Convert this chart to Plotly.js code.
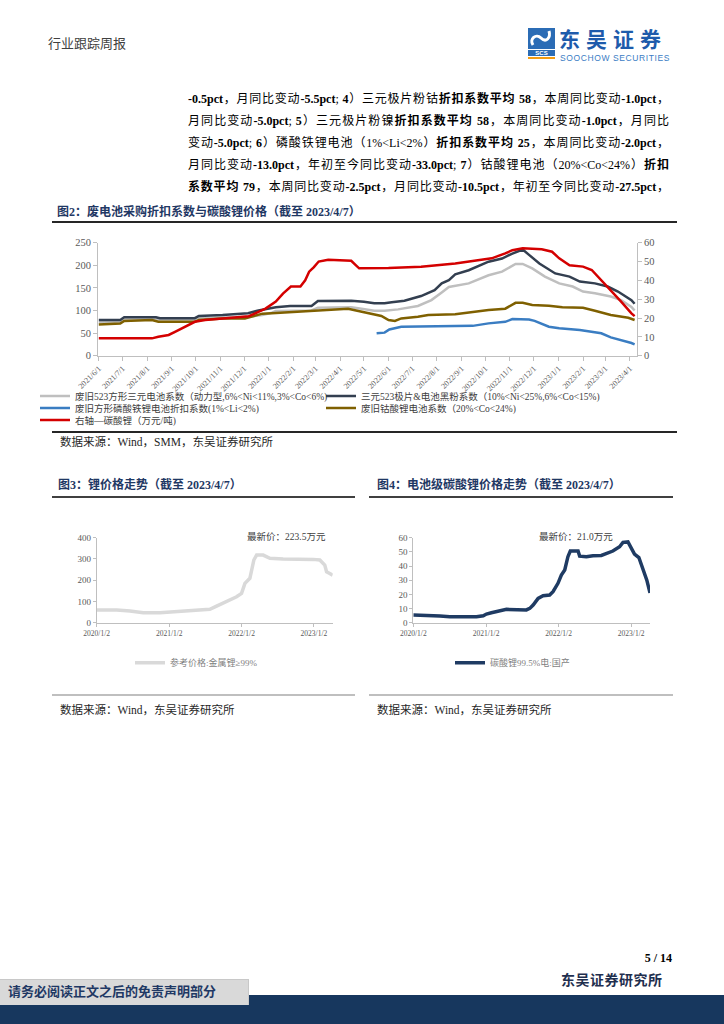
<!DOCTYPE html>
<html>
<head>
<meta charset="utf-8">
<script src="https://cdn.plot.ly/plotly-3.0.1.min.js"></script>
<style>
html,body{margin:0;padding:0;background:#fff;}
#page{position:relative;width:724px;height:1024px;overflow:hidden;background:#fff;
  font-family:"Liberation Serif","Noto Sans CJK SC",serif;color:#000;}
#chart{position:absolute;left:0;top:0;width:724px;height:1024px;}
.c{position:absolute;white-space:nowrap;line-height:1.2;transform:translateY(-50%);}
.p{position:absolute;left:188px;width:481px;font-size:12px;line-height:1.2;text-align:justify;text-align-last:justify;transform:translateY(-50%);}
.ttl{font-weight:bold;color:#1f3864;font-size:12px;}
.rule{position:absolute;}
</style>
</head>
<body>
<div id="page">
  <div id="chart"></div>

  <!-- header -->
  <div class="c" style="left:48px;top:44px;font-size:13px;color:#404040;">行业跟踪周报</div>
  <svg style="position:absolute;left:528px;top:28px" width="28" height="32">
    <rect x="0" y="0" width="27" height="21" fill="#2b6cb5"/>
    <path d="M5 17 C 1 11, 8 5, 13 10 S 23 10, 21 3" stroke="#fff" stroke-width="3" fill="none"/>
    <rect x="0" y="22" width="27" height="6" fill="#2b6cb5"/>
    <text x="13.5" y="27" font-size="6" fill="#fff" text-anchor="middle" font-weight="bold" font-family="Liberation Sans">SCS</text>
    <rect x="0" y="29" width="27" height="2" fill="#f39c12"/>
  </svg>
  <div class="c" style="left:559px;top:38px;font-size:21px;line-height:1;font-weight:bold;color:#1e5bab;letter-spacing:6px;font-family:'Noto Sans CJK SC';">东吴证券</div>
  <div class="c" style="left:560px;top:57.5px;font-size:8.5px;line-height:1;color:#3a7cc4;font-family:'Liberation Sans';letter-spacing:0.6px;">SOOCHOW SECURITIES</div>

  <!-- paragraph -->
  <div class="p" style="top:99px;"><b>-0.5pct</b>，月同比变动<b>-5.5pct</b>; <b>4</b>）三元极片粉钴<b>折扣系数平均 58</b>，本周同比变动<b>-1.0pct</b>，</div>
  <div class="p" style="top:121px;">月同比变动<b>-5.0pct</b>; <b>5</b>）三元极片粉镍<b>折扣系数平均 58</b>，本周同比变动<b>-1.0pct</b>，月同比</div>
  <div class="p" style="top:143px;">变动<b>-5.0pct</b>; <b>6</b>）磷酸铁锂电池（1%&lt;Li&lt;2%）<b>折扣系数平均 25</b>，本周同比变动<b>-2.0pct</b>，</div>
  <div class="p" style="top:165px;">月同比变动<b>-13.0pct</b>，年初至今同比变动<b>-33.0pct</b>; <b>7</b>）钴酸锂电池（20%&lt;Co&lt;24%）<b>折扣</b></div>
  <div class="p" style="top:187px;"><b>系数平均</b> <b>79</b>，本周同比变动<b>-2.5pct</b>，月同比变动<b>-10.5pct</b>，年初至今同比变动<b>-27.5pct</b>，</div>

  <!-- figure 2 -->
  <div class="c ttl" style="left:57px;top:212px;">图2：废电池采购折扣系数与碳酸锂价格（截至 2023/4/7）</div>
  <div class="rule" style="left:52px;top:221px;width:625px;height:2px;background:#262626;"></div>
  <div class="rule" style="left:52px;top:431px;width:625px;height:2px;background:#262626;"></div>
  <div class="c" style="left:60px;top:443px;font-size:11.5px;color:#262626;">数据来源：Wind，SMM，东吴证券研究所</div>

  <!-- figure 3 / 4 -->
  <div class="c ttl" style="left:58px;top:485px;">图3：锂价格走势（截至 2023/4/7）</div>
  <div class="rule" style="left:52px;top:496px;width:303px;height:2px;background:#404040;"></div>
  <div class="c ttl" style="left:377px;top:485px;">图4：电池级碳酸锂价格走势（截至 2023/4/7）</div>
  <div class="rule" style="left:369px;top:496px;width:304px;height:2px;background:#404040;"></div>
  <div class="rule" style="left:52px;top:694px;width:303px;height:1.5px;background:#bfbfbf;"></div>
  <div class="rule" style="left:369px;top:694px;width:304px;height:1.5px;background:#bfbfbf;"></div>
  <div class="c" style="left:60px;top:711px;font-size:11.5px;color:#262626;">数据来源：Wind，东吴证券研究所</div>
  <div class="c" style="left:377px;top:711px;font-size:11.5px;color:#262626;">数据来源：Wind，东吴证券研究所</div>

  <!-- footer -->
  <div class="c" style="right:52px;top:958px;font-size:12px;font-weight:bold;">5 / 14</div>
  <div class="c" style="left:561px;top:981px;font-size:14px;font-weight:bold;color:#1f2f4f;letter-spacing:0.5px;">东吴证券研究所</div>
  <div class="rule" style="left:0;top:995px;width:724px;height:29px;background:#17375e;"></div>
  <div class="rule" style="left:0;top:979px;width:248px;height:25px;background:#d9d9d9;border-top:1px solid #c8c8c8;border-right:1px solid #c8c8c8;"></div>
  <div class="c" style="left:8px;top:992px;font-size:13px;font-weight:bold;color:#1f3864;">请务必阅读正文之后的免责声明部分</div>
</div>

<script>
// ---------- Figure 2 data ----------
const grayName = '废旧523方形三元电池系数（动力型,6%<Ni<11%,3%<Co<6%)';
const grayDates = ['2021-06-01','2021-06-28','2021-07-03','2021-09-30','2021-10-05','2021-11-04','2021-12-06','2021-12-24','2022-01-05','2022-01-10','2022-02-24','2022-03-04','2022-04-15','2022-04-28','2022-05-14','2022-05-27','2022-06-13','2022-07-08','2022-07-25','2022-08-07','2022-08-16','2022-09-10','2022-10-05','2022-10-22','2022-11-08','2022-11-17','2022-11-29','2022-12-15','2023-01-02','2023-01-19','2023-02-01','2023-02-16','2023-03-08','2023-03-21','2023-04-03','2023-04-07'];
const grayVals = [74,74,80,80,83,85,86,90,95,99,100,106,107,104,99.5,99.5,102.5,110,123,140,152,160,178,186,203,203,193,175,160,153,142,138,131,123,108,100];

const navyName = '三元523极片&电池黑粉系数（10%<Ni<25%,6%<Co<15%)';
const navyDates = ['2021-06-01','2021-06-28','2021-07-03','2021-08-12','2021-08-17','2021-09-30','2021-10-05','2021-11-04','2021-12-06','2021-12-19','2022-01-10','2022-01-28','2022-02-24','2022-03-04','2022-04-15','2022-05-01','2022-05-14','2022-05-27','2022-06-05','2022-06-21','2022-07-12','2022-07-29','2022-08-07','2022-08-16','2022-08-24','2022-09-10','2022-10-05','2022-10-22','2022-11-04','2022-11-17','2022-11-25','2022-12-08','2022-12-28','2023-01-15','2023-01-28','2023-02-16','2023-03-04','2023-03-17','2023-04-03','2023-04-07'];
const navyVals = [79,79,85,85,83,83,88,90,94,100,107,110,110,121,121.5,119.5,116,116,118,121.5,132,145,160,167,180,189,208,215,226,235,223,204,182,175,164,160,153,142,123,115];

const blueName = '废旧方形磷酸铁锂电池折扣系数(1%<Li<2%)';
const blueDates = ['2022-05-17','2022-05-27','2022-06-02','2022-06-13','2022-06-17','2022-09-15','2022-09-23','2022-10-05','2022-10-26','2022-11-04','2022-11-25','2022-12-02','2022-12-20','2023-01-02','2023-01-28','2023-02-12','2023-02-24','2023-03-08','2023-03-21','2023-04-03','2023-04-07'];
const blueVals = [49.5,51,58,62,64,66,68,71.5,75,81,80,77,64,60.5,57,53,49.5,40.6,35,28,25];

const oliveName = '废旧钴酸锂电池系数（20%<Co<24%)';
const oliveDates = ['2021-06-01','2021-06-28','2021-07-03','2021-08-07','2021-08-15','2021-09-30','2021-10-05','2021-11-04','2021-12-02','2021-12-15','2021-12-24','2022-01-05','2022-02-20','2022-03-17','2022-04-11','2022-04-24','2022-05-06','2022-05-23','2022-06-01','2022-06-09','2022-06-17','2022-07-08','2022-07-21','2022-08-07','2022-08-24','2022-10-05','2022-10-26','2022-11-08','2022-11-17','2022-11-29','2022-12-20','2023-01-06','2023-02-01','2023-02-16','2023-03-08','2023-03-30','2023-04-07'];
const oliveVals = [69,71,77,79,75,75,79,82.5,82.5,88,93,94,99,102.5,104,99,94,88,79,77,82.5,86,90,91.5,91.5,101,104,117,117,112,110.5,107,106,99.5,90,84,79];

const redName = '右轴—碳酸锂（万元/吨)';
const redDates = ['2021-06-01','2021-08-07','2021-08-15','2021-08-28','2021-09-05','2021-09-18','2021-09-30','2021-10-13','2021-11-04','2021-11-25','2021-12-07','2021-12-15','2021-12-28','2022-01-10','2022-01-19','2022-01-29','2022-02-10','2022-02-16','2022-02-21','2022-02-27','2022-03-05','2022-03-17','2022-04-15','2022-04-21','2022-04-25','2022-06-01','2022-07-12','2022-08-24','2022-09-23','2022-10-09','2022-10-26','2022-11-04','2022-11-17','2022-12-11','2022-12-24','2023-01-02','2023-01-15','2023-02-01','2023-02-12','2023-02-24','2023-03-08','2023-03-21','2023-04-03','2023-04-07'];
const redVals = [9.2,9.2,10.1,11,12.7,15.4,18,19,19.8,20.4,21,22.5,25,28.7,33,36.7,36.7,40,44.6,47,50,51,50.4,48,46.4,46.5,47.2,49,50.8,51.7,54.3,56,57,56.5,55.2,51.7,48,47.3,45.5,40,35,28.7,22.5,21];

// ---------- Figure 3 data ----------
const metalName = '参考价格:金属锂≥99%';
const metalDates = ['2020-01-02','2020-04-12','2020-06-18','2020-08-24','2020-11-16','2021-02-08','2021-04-16','2021-07-26','2021-08-29','2021-10-18','2021-12-08','2022-01-02','2022-01-19','2022-02-13','2022-03-05','2022-03-19','2022-04-21','2022-05-25','2022-07-31','2022-12-29','2023-02-01','2023-02-26','2023-03-07','2023-03-23','2023-04-07'];
const metalVals = [60,60,55,47,47,52,60,63,78,99,122,138,185,209,295,318,318,303,300,298,295,271,240,232,223.5];
const metalLatest = '最新价：223.5万元';

// ---------- Figure 4 data ----------
const carbName = '碳酸锂99.5%电:国产';
const carbDates = ['2020-01-02','2020-03-26','2020-05-15','2020-07-04','2020-11-15','2020-12-19','2021-01-04','2021-01-29','2021-03-12','2021-04-15','2021-07-24','2021-08-10','2021-08-27','2021-09-21','2021-10-16','2021-11-18','2021-12-05','2021-12-30','2022-01-16','2022-02-02','2022-02-18','2022-03-02','2022-04-10','2022-04-18','2022-05-22','2022-06-24','2022-08-05','2022-08-30','2022-10-02','2022-11-05','2022-11-22','2022-12-17','2023-01-02','2023-01-19','2023-02-10','2023-03-02','2023-03-22','2023-04-07'];
const carbVals = [5.4,5.2,4.7,4.2,4.2,4.9,6.1,7,8.5,9.4,9,10.1,12.5,17.2,19,19.5,21.9,27.8,33.6,37.2,46.6,50.6,50.6,47,46.6,47.3,47.5,49,50.6,53.6,56.7,57,52.5,48.5,46,38.4,30,21];
const carbLatest = '最新价：21.0万元';

// ---------- tick labels ----------
const yearTickVals = ['2020-01-02','2021-01-02','2022-01-02','2023-01-02'];
const yearTickText = ['2020/1/2','2021/1/2','2022/1/2','2023/1/2'];

// ---------- helpers (pixel -> paper) ----------
const W = 724, H = 1024;
const px = v => v / W;
const py = v => 1 - v / H;

const FONT = 'Liberation Serif, Noto Sans CJK SC, serif';
const tickCol = '#595959';
const axCol = '#bfbfbf';

function ln(x, y, name, color, width, xa, ya, leg) {
  return {type:'scatter', mode:'lines', x:x, y:y, name:name, xaxis:xa, yaxis:ya, legend:leg,
          line:{color:color, width:width}, hoverinfo:'skip'};
}

const traces = [
  ln(grayDates, grayVals, grayName, '#bfbfbf', 2.5, 'x', 'y', 'legend'),
  ln(navyDates, navyVals, navyName, '#333f50', 2.5, 'x', 'y', 'legend2'),
  ln(blueDates, blueVals, blueName, '#3a7dc2', 2.5, 'x', 'y', 'legend3'),
  ln(oliveDates, oliveVals, oliveName, '#7f6000', 2.5, 'x', 'y', 'legend4'),
  ln(redDates, redVals, redName, '#d40000', 2.5, 'x', 'y2', 'legend5'),
  ln(metalDates, metalVals, metalName, '#d9d9d9', 3.5, 'x3', 'y3', 'legend6'),
  ln(carbDates, carbVals, carbName, '#1f3b63', 3.5, 'x4', 'y4', 'legend7')
];

function yax(domain, range, dtick, size) {
  return {domain:domain, range:range, dtick:dtick, tick0:0, ticks:'outside', ticklen:4, tickcolor:axCol,
          showline:true, linecolor:axCol, linewidth:1, showgrid:false, zeroline:false,
          tickfont:{family:FONT, size:size, color:tickCol}, fixedrange:true};
}

function legendAt(x, y, fontSize, color) {
  return {x:px(x), y:py(y), xanchor:'left', yanchor:'middle', orientation:'v',
          itemwidth:30, bgcolor:'rgba(0,0,0,0)', borderwidth:0,
          font:{family:FONT, size:fontSize, color:color}};
}

const fig2Y = [py(355.7), py(242.7)];
const smallY = [py(622.7), py(537.7)];

const layout = {
  width:W, height:H, margin:{l:0, r:0, t:0, b:0},
  paper_bgcolor:'rgba(0,0,0,0)', plot_bgcolor:'rgba(0,0,0,0)',
  font:{family:FONT, size:10, color:tickCol},
  showlegend:true,
  xaxis:{domain:[px(98), px(637)], anchor:'y', type:'date', range:['2021-05-31','2023-04-10'],
         tick0:'2021-06-01', dtick:'M1', tickformat:'%Y/%-m/%-d', tickangle:-45,
         ticks:'outside', ticklen:4, tickcolor:axCol, showline:true, linecolor:axCol,
         showgrid:false, zeroline:false, tickfont:{family:FONT, size:8, color:tickCol}},
  yaxis:Object.assign(yax(fig2Y, [0,250], 50, 10.5), {anchor:'x'}),
  yaxis2:Object.assign(yax(fig2Y, [0,60], 10, 10.5), {anchor:'x', overlaying:'y', side:'right'}),

  xaxis3:{domain:[px(96.7), px(332.7)], anchor:'y3', type:'date', range:['2020-01-02','2023-04-07'],
          tickmode:'array', tickvals:yearTickVals, ticktext:yearTickText,
          ticks:'outside', ticklen:3, tickcolor:axCol, showline:true, linecolor:axCol,
          showgrid:false, zeroline:false, tickfont:{family:FONT, size:7.5, color:tickCol}},
  yaxis3:Object.assign(yax(smallY, [0,400], 100, 9), {anchor:'x3', ticklen:3}),

  xaxis4:{domain:[px(413.3), px(650)], anchor:'y4', type:'date', range:['2020-01-02','2023-04-07'],
          tickmode:'array', tickvals:yearTickVals, ticktext:yearTickText,
          ticks:'outside', ticklen:3, tickcolor:axCol, showline:true, linecolor:axCol,
          showgrid:false, zeroline:false, tickfont:{family:FONT, size:7.5, color:tickCol}},
  yaxis4:Object.assign(yax(smallY, [0,60], 10, 9), {anchor:'x4', ticklen:3}),

  legend: legendAt(35, 396, 9.5, '#404040'),
  legend2: legendAt(321, 396, 9.5, '#404040'),
  legend3: legendAt(35, 408, 9.5, '#404040'),
  legend4: legendAt(321, 408, 9.5, '#404040'),
  legend5: legendAt(35, 420, 9.5, '#404040'),
  legend6: legendAt(130, 662.7, 9, '#7f7f7f'),
  legend7: legendAt(450, 662.7, 9, '#7f7f7f'),

  annotations:[
    {xref:'paper', yref:'paper', x:px(286), y:py(536), text:metalLatest, showarrow:false,
     font:{family:FONT, size:9.5, color:'#404040'}, xanchor:'center', yanchor:'middle'},
    {xref:'paper', yref:'paper', x:px(576), y:py(536), text:carbLatest, showarrow:false,
     font:{family:FONT, size:9.5, color:'#404040'}, xanchor:'center', yanchor:'middle'}
  ]
};

Plotly.newPlot('chart', traces, layout, {staticPlot:true, displayModeBar:false});
</script>
</body>
</html>
